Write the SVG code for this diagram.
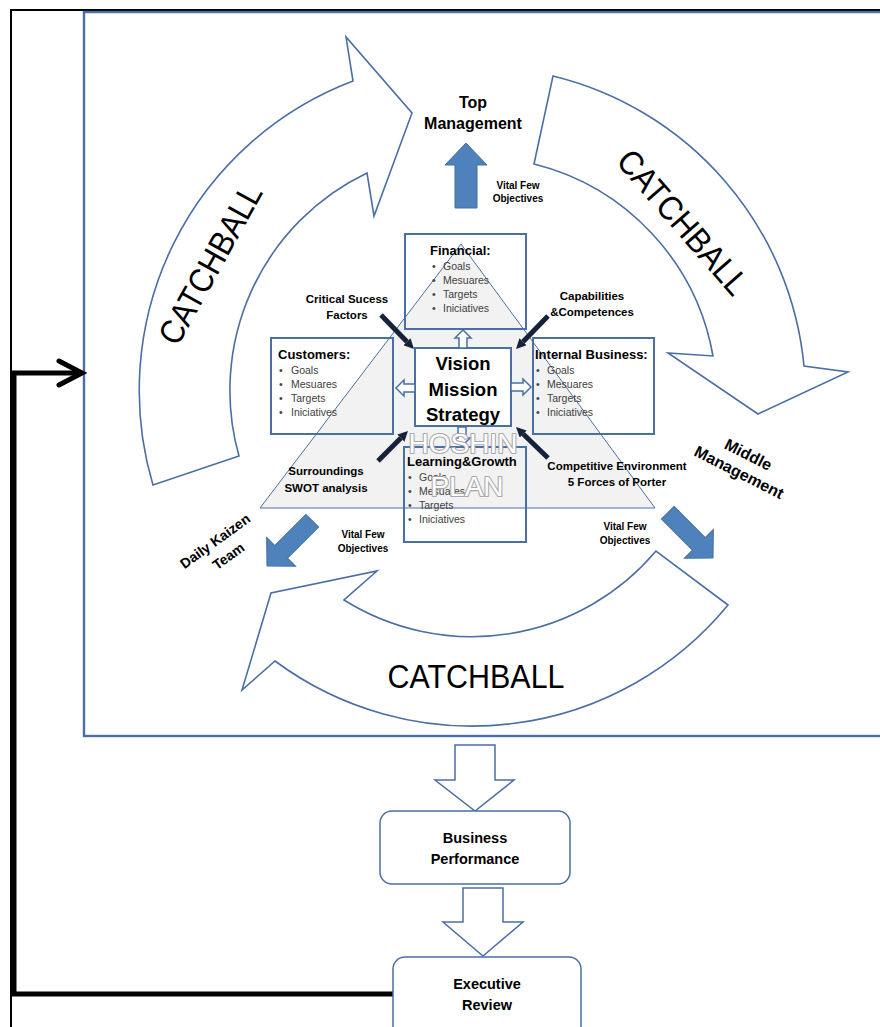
<svg xmlns="http://www.w3.org/2000/svg" width="880" height="1027" viewBox="0 0 880 1027">
<defs>
<style>
.frame{fill:none;stroke:#000;stroke-width:2}
.bframe{fill:none;stroke:#4a6fa5;stroke-width:2.4}
.ring{fill:#fff;stroke:#4a6fa5;stroke-width:1.6;stroke-linejoin:miter}
.box{fill:none;stroke:#4a6fa5;stroke-width:2}
.tri{fill:#f2f2f2;stroke:#4a6fa5;stroke-width:1}
.open{fill:#fff;stroke:#4a6fa5;stroke-width:1.5}
.blue{fill:#4f81bd;stroke:#41719c;stroke-width:1}
.dark{fill:none;stroke:#15223a;stroke-width:5}
.conn{fill:none;stroke:#000;stroke-width:5;stroke-linejoin:miter}
.t{font-family:"Liberation Sans",Arial,sans-serif;fill:#000}
.b{font-weight:bold}
.cb{font-size:34px}
.hd{font-size:13px;font-weight:bold}
.it{font-family:"Liberation Sans",Arial,sans-serif;font-size:10.5px;fill:#404040}
.sm{font-size:11.5px;font-weight:bold}
.vf{font-size:10px;font-weight:bold}
.big{font-size:16px;font-weight:bold}
.wm{font-family:"Liberation Sans",Arial,sans-serif;font-size:28px;fill:#fff;stroke:#a8a8a8;stroke-width:2.2;paint-order:stroke;stroke-linejoin:round}
</style>
<marker id="hd" viewBox="0 0 10 10" refX="0" refY="5" markerWidth="10" markerHeight="10" markerUnits="userSpaceOnUse" orient="auto">
<path d="M0,0 L10,5 L0,10 z" fill="#15223a"/>
</marker>
</defs>
<rect width="880" height="1027" fill="#fff"/>
<g id="frames">
<path class="frame" d="M11,1027 L11,10 L880,10"/>
<rect class="bframe" x="84" y="12" width="830" height="724"/>
</g>
<g id="catchball-left">
<path class="ring" d="M153,485 A331,331 0 0 1 353,81 L346,37 L412,113 L374,216 L367,173 A241,241 0 0 0 239,456 Z"/>
<text class="t cb" transform="translate(210,264) rotate(-61)" x="0" y="12" text-anchor="middle" textLength="177" lengthAdjust="spacingAndGlyphs">CATCHBALL</text>
</g>
<g id="catchball-right">
<path class="ring" d="M553,76 A331,331 0 0 1 804,366 L848,372 L758,414 L668,353 L713,356 A241,241 0 0 0 534,164 Z"/>
<text class="t cb" transform="translate(683,222) rotate(49)" x="0" y="12" text-anchor="middle" textLength="180" lengthAdjust="spacingAndGlyphs">CATCHBALL</text>
</g>
<g id="catchball-bottom">
<path class="ring" d="M728,605 A331,331 0 0 1 275,661 L242,690 L271,593 L377,571 L344,600 A241,241 0 0 0 656,551 Z"/>
<text class="t cb" x="476" y="688" text-anchor="middle" textLength="177" lengthAdjust="spacingAndGlyphs">CATCHBALL</text>
</g>
<g id="top-management">
<text class="t big" text-anchor="middle"><tspan x="473" y="108">Top</tspan><tspan x="473" y="129">Management</tspan></text>
<path class="blue" d="M466,143 L487,165 L477,165 L477,208 L455,208 L455,165 L445,165 Z"/>
<text class="t vf" text-anchor="middle"><tspan x="518" y="189">Vital Few</tspan><tspan x="518" y="202">Objectives</tspan></text>
</g>
<g id="middle-management">
<text class="t big" transform="translate(748,455) rotate(27)" text-anchor="middle"><tspan x="0" y="5">Middle</tspan><tspan x="0" y="25">Management</tspan></text>
<path class="blue" transform="translate(713,558) rotate(45)" d="M0,0 L-20,-20.5 L-20,-9 L-64,-9 L-64,9 L-20,9 L-20,20.5 Z"/>
<text class="t vf" text-anchor="middle"><tspan x="625" y="530">Vital Few</tspan><tspan x="625" y="544">Objectives</tspan></text>
</g>
<g id="daily-kaizen">
<text class="t b" font-size="14" transform="translate(215,541) rotate(-36)" text-anchor="middle"><tspan x="0" y="5">Daily Kaizen</tspan><tspan x="2" y="25">Team</tspan></text>
<path class="blue" transform="translate(267,566) rotate(135)" d="M0,0 L-20,-20.5 L-20,-9 L-64,-9 L-64,9 L-20,9 L-20,20.5 Z"/>
<text class="t vf" text-anchor="middle"><tspan x="363" y="538">Vital Few</tspan><tspan x="363" y="552">Objectives</tspan></text>
</g>
<g id="hoshin-triangle">
<path class="tri" d="M461,244 L655,508 L260,508 Z"/>
</g>
<g id="financial">
<rect class="box" x="405" y="234" width="121" height="95"/>
<text class="t hd" x="430" y="255">Financial:</text>
<text class="it"><tspan x="432" y="270">•</tspan><tspan x="443" y="270">Goals</tspan><tspan x="432" y="284">•</tspan><tspan x="443" y="284">Mesuares</tspan><tspan x="432" y="298">•</tspan><tspan x="443" y="298">Targets</tspan><tspan x="432" y="312">•</tspan><tspan x="443" y="312">Iniciatives</tspan></text>
</g>
<g id="customers">
<rect class="box" x="271" y="338" width="122" height="96"/>
<text class="t hd" x="278" y="359">Customers:</text>
<text class="it"><tspan x="279" y="374">•</tspan><tspan x="291" y="374">Goals</tspan><tspan x="279" y="388">•</tspan><tspan x="291" y="388">Mesuares</tspan><tspan x="279" y="402">•</tspan><tspan x="291" y="402">Targets</tspan><tspan x="279" y="416">•</tspan><tspan x="291" y="416">Iniciatives</tspan></text>
</g>
<g id="internal-business">
<rect class="box" x="533" y="338" width="121" height="96"/>
<text class="t hd" x="535" y="359">Internal Business:</text>
<text class="it"><tspan x="536" y="374">•</tspan><tspan x="547" y="374">Goals</tspan><tspan x="536" y="388">•</tspan><tspan x="547" y="388">Mesuares</tspan><tspan x="536" y="402">•</tspan><tspan x="547" y="402">Targets</tspan><tspan x="536" y="416">•</tspan><tspan x="547" y="416">Iniciatives</tspan></text>
</g>
<g id="learning-growth">
<rect class="box" x="404" y="447" width="122" height="95"/>
<text class="t hd" x="407" y="466">Learning&amp;Growth</text>
<text class="it"><tspan x="408" y="481">•</tspan><tspan x="419" y="481">Goals</tspan><tspan x="408" y="495">•</tspan><tspan x="419" y="495">Mesuares</tspan><tspan x="408" y="509">•</tspan><tspan x="419" y="509">Targets</tspan><tspan x="408" y="523">•</tspan><tspan x="419" y="523">Iniciatives</tspan></text>
</g>
<g id="vision">
<rect x="415" y="348" width="96" height="78" fill="#fff" stroke="#4a6fa5" stroke-width="2"/>
<text class="t b" font-size="18.5" text-anchor="middle"><tspan x="463" y="370">Vision</tspan><tspan x="463" y="396">Mission</tspan><tspan x="463" y="421">Strategy</tspan></text>
</g>
<g id="connectors">
<path class="open" d="M463,330 L471,338 L467,338 L467,348 L459,348 L459,338 L455,338 Z"/>
<path class="open" d="M396,388 L404,380 L404,384 L415,384 L415,392 L404,392 L404,396 Z"/>
<path class="open" d="M531,387 L523,379 L523,383 L511,383 L511,391 L523,391 L523,395 Z"/>
<path class="open" d="M462,446 L470,438 L466,438 L466,427 L458,427 L458,438 L454,438 Z"/>
<path class="dark" d="M381,315 L407,341.8" marker-end="url(#hd)"/>
<path class="dark" d="M548,316 L523,341.8" marker-end="url(#hd)"/>
<path class="dark" d="M378,461 L400.9,438.1" marker-end="url(#hd)"/>
<path class="dark" d="M548,458 L523.2,434" marker-end="url(#hd)"/>
<path class="open" d="M455,745 L495,745 L495,780 L514,780 L475,811 L435,780 L455,780 Z"/>
<path class="open" d="M463,888 L503,888 L503,922 L523,922 L483,956 L443,922 L463,922 Z"/>
<path class="conn" d="M393,994 L14,994 L14,373 L81,373"/>
<path class="conn" d="M59,361 L82,373 L59,385" stroke-linecap="round" stroke-linejoin="round"/>
</g>
<g id="labels">
<text class="t sm" text-anchor="middle"><tspan x="347" y="303">Critical Sucess</tspan><tspan x="347" y="319">Factors</tspan></text>
<text class="t sm" text-anchor="middle"><tspan x="592" y="300">Capabilities</tspan><tspan x="592" y="316">&amp;Competences</tspan></text>
<text class="t sm" text-anchor="middle" font-size="11"><tspan x="326" y="475">Surroundings</tspan><tspan x="326" y="492">SWOT analysis</tspan></text>
<text class="t sm" text-anchor="middle"><tspan x="617" y="470">Competitive Environment</tspan><tspan x="617" y="486">5 Forces of Porter</tspan></text>
</g>
<g id="hoshin-plan">
<text class="wm" text-anchor="middle"><tspan x="463" y="453">HOSHIN</tspan><tspan x="467" y="496">PLAN</tspan></text>
</g>
<g id="business-performance">
<rect class="open" x="380" y="811" width="190" height="73" rx="12"/>
<text class="t b" font-size="14.5" text-anchor="middle"><tspan x="475" y="843">Business</tspan><tspan x="475" y="864">Performance</tspan></text>
</g>
<g id="executive-review">
<rect class="open" x="393" y="957" width="188" height="90" rx="12"/>
<text class="t b" font-size="14.5" text-anchor="middle"><tspan x="487" y="989">Executive</tspan><tspan x="487" y="1010">Review</tspan></text>
</g>
</svg>
